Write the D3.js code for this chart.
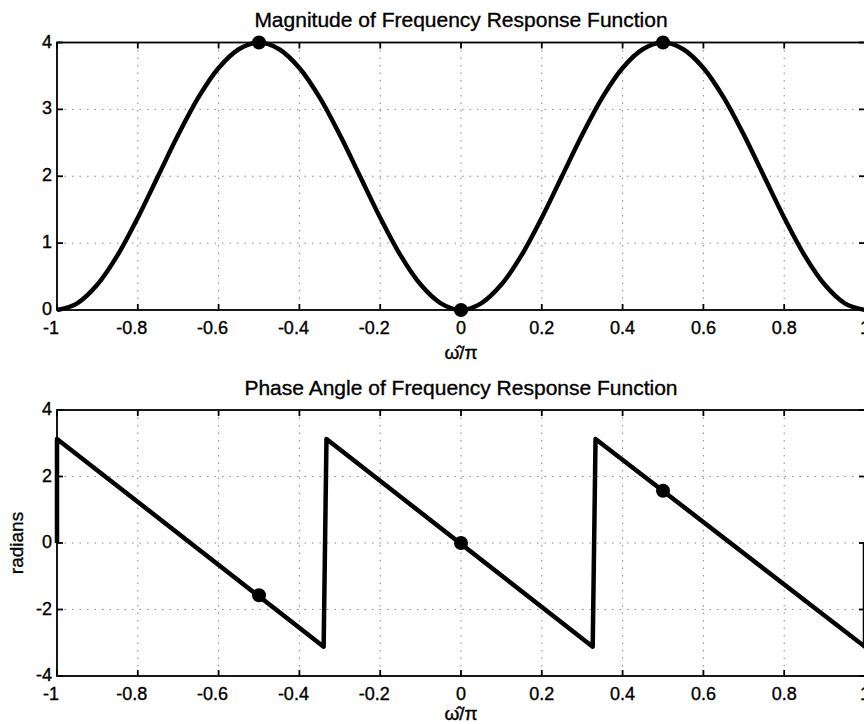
<!DOCTYPE html>
<html>
<head>
<meta charset="utf-8">
<script src="https://cdn.jsdelivr.net/npm/d3@7"></script>
<style>
    body { margin: 0; background: #fff; }
    text { font-family: "Liberation Sans", Arial, sans-serif; fill: #000; stroke: #000; stroke-width: 0.35; }
</style>
</head>
<body>
<div id="chart"></div>
<script>
// values
var xTicks = [-1, -0.8, -0.6, -0.4, -0.2, 0, 0.2, 0.4, 0.6, 0.8, 1];
var xTickLabels = ["-1", "-0.8", "-0.6", "-0.4", "-0.2", "0", "0.2", "0.4", "0.6", "0.8", "1"];
var magTicks = [0, 1, 2, 3, 4];
var phaseTicks = [-4, -2, 0, 2, 4];

// magnitude curve
var magX = [-1, -0.95, -0.9, -0.85, -0.8, -0.75, -0.7, -0.65, -0.6, -0.55, -0.5,
            -0.45, -0.4, -0.35, -0.3, -0.25, -0.2, -0.15, -0.1, -0.05, 0,
            0.05, 0.1, 0.15, 0.2, 0.25, 0.3, 0.35, 0.4, 0.45, 0.5,
            0.55, 0.6, 0.65, 0.7, 0.75, 0.8, 0.85, 0.9, 0.95, 1];
var magY = [0, 0.1, 0.38, 0.82, 1.38, 2.0, 2.62, 3.18, 3.62, 3.9, 4.0,
            3.9, 3.62, 3.18, 2.62, 2.0, 1.38, 0.82, 0.38, 0.1, 0,
            0.1, 0.38, 0.82, 1.38, 2.0, 2.62, 3.18, 3.62, 3.9, 4.0,
            3.9, 3.62, 3.18, 2.62, 2.0, 1.38, 0.82, 0.38, 0.1, 0];

// phase curve (sawtooth corners)
var phaseX = [-1, -1, -0.34, -0.333, 0.326, 0.333, 1, 1];
var phaseY = [0, 3.13, -3.12, 3.13, -3.12, 3.13, -3.12, 0];

// marked points
var magDotX = [-0.5, 0, 0.5];
var magDotY = [4, 0, 4];
var phaseDotX = [-0.5, 0, 0.5];
var phaseDotY = [-1.57, 0, 1.57];

var w = 864;
var h = 724;

var svg = d3.select("#chart")
    .append("svg")
    .attr("width", w)
    .attr("height", h);

var x = d3.scaleLinear().domain([-1, 1]).range([57, 865]);

function panel(yScale, yTicks, title, titleY, xLabelY, px, py, dx, dy, curve, ylabel) {
    var left = x(-1), right = x(1);
    var top = yScale.range()[1], bottom = yScale.range()[0];
    var g = svg.append("g");

    // dotted grid
    g.selectAll(".vgrid")
        .data(xTicks.slice(1, -1))
        .enter()
        .append("line")
        .attr("x1", function (d) { return x(d); })
        .attr("x2", function (d) { return x(d); })
        .attr("y1", top)
        .attr("y2", bottom)
        .attr("stroke", "#888")
        .attr("stroke-width", 1)
        .attr("stroke-dasharray", "1.5,6");
    g.selectAll(".hgrid")
        .data(yTicks.slice(1, -1))
        .enter()
        .append("line")
        .attr("x1", left)
        .attr("x2", right)
        .attr("y1", function (d) { return yScale(d); })
        .attr("y2", function (d) { return yScale(d); })
        .attr("stroke", "#888")
        .attr("stroke-width", 1)
        .attr("stroke-dasharray", "1.5,6");

    // box
    g.append("rect")
        .attr("x", left)
        .attr("y", top)
        .attr("width", right - left)
        .attr("height", bottom - top)
        .attr("fill", "none")
        .attr("stroke", "#000")
        .attr("stroke-width", 1.8);

    // inward ticks
    var tl = 6;
    xTicks.forEach(function (t) {
        g.append("line").attr("x1", x(t)).attr("x2", x(t))
            .attr("y1", bottom).attr("y2", bottom - tl)
            .attr("stroke", "#000").attr("stroke-width", 1.8);
        g.append("line").attr("x1", x(t)).attr("x2", x(t))
            .attr("y1", top).attr("y2", top + tl)
            .attr("stroke", "#000").attr("stroke-width", 1.8);
    });
    yTicks.forEach(function (t) {
        g.append("line").attr("x1", left).attr("x2", left + tl)
            .attr("y1", yScale(t)).attr("y2", yScale(t))
            .attr("stroke", "#000").attr("stroke-width", 1.8);
        g.append("line").attr("x1", right).attr("x2", right - tl)
            .attr("y1", yScale(t)).attr("y2", yScale(t))
            .attr("stroke", "#000").attr("stroke-width", 1.8);
    });

    // tick labels
    g.selectAll(".xl")
        .data(xTicks)
        .enter()
        .append("text")
        .text(function (d, i) { return xTickLabels[i]; })
        .attr("x", function (d) { return x(d) + (d < 0 ? -6 : 0); })
        .attr("y", bottom + 24)
        .attr("text-anchor", "middle")
        .attr("font-size", 18);
    g.selectAll(".yl")
        .data(yTicks)
        .enter()
        .append("text")
        .text(function (d) { return d; })
        .attr("x", left - 5)
        .attr("y", function (d) { return yScale(d) + 5; })
        .attr("text-anchor", "end")
        .attr("font-size", 18);

    // title and labels
    g.append("text")
        .text(title)
        .attr("x", x(0))
        .attr("y", titleY)
        .attr("text-anchor", "middle")
        .attr("font-size", 21);
    g.append("text")
        .text("\u03c9\u0302/\u03c0")
        .attr("x", x(0))
        .attr("y", xLabelY)
        .attr("text-anchor", "middle")
        .attr("font-size", 19);
    if (ylabel) {
        g.append("text")
            .text(ylabel)
            .attr("transform", "translate(23," + ((top + bottom) / 2) + ") rotate(-90)")
            .attr("text-anchor", "middle")
            .attr("font-size", 19);
    }

    // curve
    var pts = px.map(function (v, i) { return [v, py[i]]; });
    g.append("path")
        .datum(pts)
        .attr("d", d3.line()
            .x(function (d) { return x(d[0]); })
            .y(function (d) { return yScale(d[1]); })
            .curve(curve))
        .attr("fill", "none")
        .attr("stroke", "#000")
        .attr("stroke-width", 4.5)
        .attr("stroke-linejoin", "round");

    // marked points
    g.selectAll(".dot")
        .data(dx)
        .enter()
        .append("circle")
        .attr("cx", function (d) { return x(d); })
        .attr("cy", function (d, i) { return yScale(dy[i]); })
        .attr("r", 7)
        .attr("fill", "#000");
}

var yMag = d3.scaleLinear().domain([0, 4]).range([310, 42.5]);
var yPhase = d3.scaleLinear().domain([-4, 4]).range([676, 410]);

panel(yMag, magTicks, "Magnitude of Frequency Response Function", 27, 359,
    magX, magY, magDotX, magDotY, d3.curveCatmullRom, null);
panel(yPhase, phaseTicks, "Phase Angle of Frequency Response Function", 395, 720,
    phaseX, phaseY, phaseDotX, phaseDotY, d3.curveLinear, "radians");
</script>
</body>
</html>
